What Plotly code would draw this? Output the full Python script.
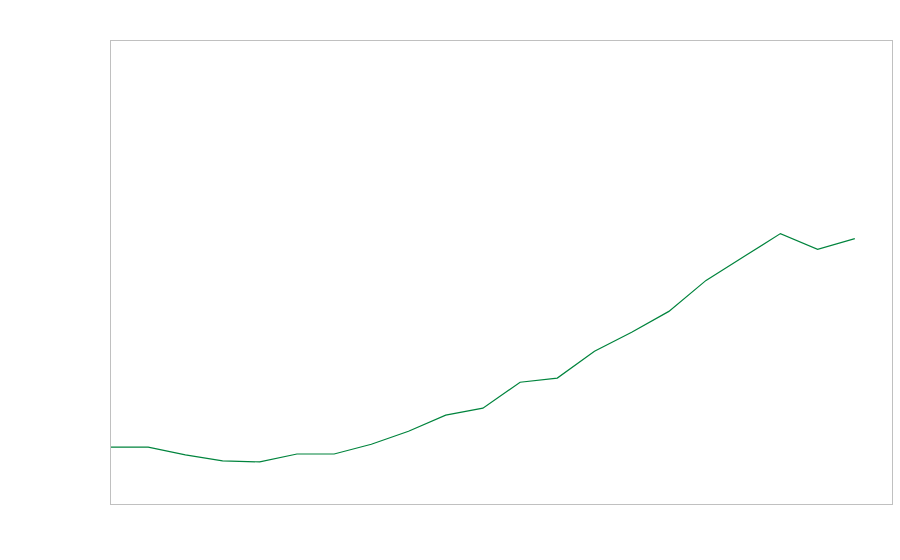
import plotly.graph_objects as go

periods = list(range(21))
values = [12.3, 12.3, 10.6, 9.3, 9.1, 10.8, 10.8, 12.9, 15.7, 19.2, 20.7,
          26.3, 27.2, 33.0, 37.1, 41.6, 48.3, 53.4, 58.4, 55.0, 57.3]

fig = go.Figure()
fig.add_trace(go.Scatter(x=periods, y=values, mode="lines",
                         line=dict(color="#00843D", width=1.2), hoverinfo="skip"))

axis_style = dict(showgrid=False, zeroline=False, showticklabels=False, ticks="",
                  showline=True, linecolor="#c0c0c0", linewidth=1, mirror=True)
fig.update_layout(
    width=900, height=560,
    margin=dict(l=111, r=8, t=41, b=56),
    paper_bgcolor="white", plot_bgcolor="white",
    showlegend=False,
    xaxis=dict(range=[0, 21], **axis_style),
    yaxis=dict(range=[0, 100], **axis_style),
)
fig.write_html("out.html",
               config={"displayModeBar": False},
               post_script="document.body.style.margin='0';document.body.style.overflow='hidden';")
